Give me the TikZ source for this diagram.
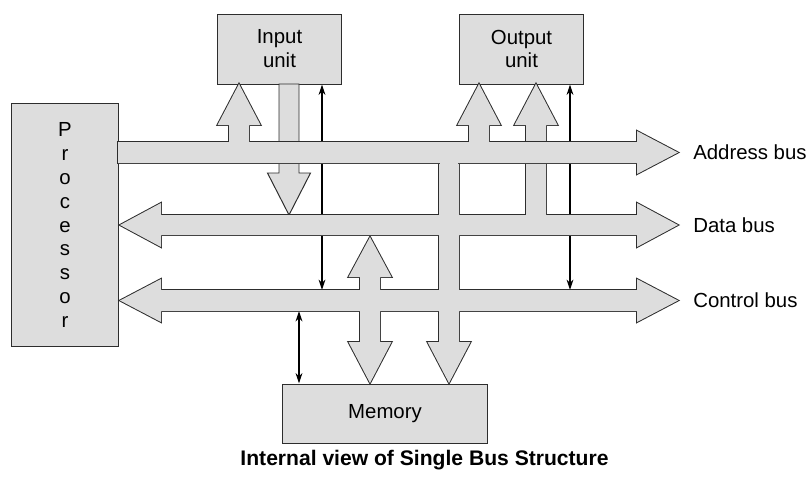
\documentclass[tikz,border=0pt]{standalone}
\usepackage{fontspec}
\setmainfont{Liberation Sans}
\usetikzlibrary{arrows.meta}

\definecolor{busgray}{RGB}{221,221,221}
\definecolor{edgegray}{RGB}{45,45,45}

% vertical bus stub with an arrow head pointing up to a unit
\newcommand{\upbus}[2]{(#1-10,#2) -- (#1-10,125) -- (#1-21.5,125) -- (#1,84) -- (#1+21.5,125) -- (#1+10,125) -- (#1+10,#2) -- cycle}

\begin{document}
\begin{tikzpicture}[x=0.025cm,y=-0.025cm,
    unit/.style={draw=edgegray, line width=0.7pt, fill=busgray, align=center, font=\fontsize{14.5}{17}\selectfont},
    busedge/.style={draw=edgegray, line width=1.4pt, line join=miter},
    sig/.style={draw=black, line width=0.8pt, {Stealth[length=2.6mm,width=1.7mm]}-{Stealth[length=2.6mm,width=1.7mm]}},
    buslabel/.style={anchor=west, inner sep=0pt, font=\fontsize{14.5}{17}\selectfont}]

\useasboundingbox (0,0) rectangle (811,476);

% units
\node[unit, minimum width=2.65cm, minimum height=6.05cm] (cpu) at (65,225) {P\\r\\o\\c\\e\\s\\s\\o\\r};
\node[unit, minimum width=3.075cm, minimum height=1.75cm] (inunit) at (279.5,49) {Input\\unit};
\node[unit, minimum width=3.075cm, minimum height=1.75cm] (outunit) at (521.5,49) {Output\\unit};
\node[unit, minimum width=5.1cm, minimum height=1.475cm] (memory) at (385,413.5) {Memory};

% control lines (behind the buses)
\coordinate (ctlin) at (322,290);
\coordinate (ctlout) at (570,290);
\coordinate (ctlmem) at (299,311);
\draw[sig] (ctlin) -- (ctlin |- inunit.south);
\draw[sig] (ctlout) -- (ctlout |- outunit.south);
\draw[sig] (ctlmem) -- (ctlmem |- memory.north);

% input unit -> data bus
\draw[edgegray, line width=0.7pt, fill=busgray] (279,84) -- (279,173) -- (267.5,173) -- (289,215) -- (310.5,173) -- (299,173) -- (299,84) -- cycle;

% data bus, control bus and their branches
\path[busedge] (120,225) -- (161,203) -- (161,215) -- (637,215) -- (637,203) -- (678,225) -- (637,247) -- (637,235) -- (161,235) -- (161,247) -- cycle;
\path[busedge] (120,300.5) -- (161,279) -- (161,290) -- (637,290) -- (637,279) -- (678,300.5) -- (637,322) -- (637,311) -- (161,311) -- (161,322) -- cycle;
\path[busedge] \upbus{536}{225};
\path[busedge] (370,237) -- (391.5,277) -- (380,277) -- (380,342) -- (391.5,342) -- (370,383) -- (348.5,342) -- (360,342) -- (360,277) -- (348.5,277) -- cycle;
\path[busedge] (439,150) -- (439,342) -- (427.5,342) -- (449,383) -- (470.5,342) -- (459,342) -- (459,150) -- cycle;
\fill[busgray] (120,225) -- (161,203) -- (161,215) -- (637,215) -- (637,203) -- (678,225) -- (637,247) -- (637,235) -- (161,235) -- (161,247) -- cycle;
\fill[busgray] (120,300.5) -- (161,279) -- (161,290) -- (637,290) -- (637,279) -- (678,300.5) -- (637,322) -- (637,311) -- (161,311) -- (161,322) -- cycle;
\fill[busgray] \upbus{536}{225};
\fill[busgray] (370,237) -- (391.5,277) -- (380,277) -- (380,342) -- (391.5,342) -- (370,383) -- (348.5,342) -- (360,342) -- (360,277) -- (348.5,277) -- cycle;
\fill[busgray] (439,150) -- (439,342) -- (427.5,342) -- (449,383) -- (470.5,342) -- (459,342) -- (459,150) -- cycle;

% address bus and its branches
\path[busedge] (118,142) -- (637,142) -- (637,131) -- (678,152.5) -- (637,174) -- (637,163) -- (118,163) -- cycle;
\path[busedge] \upbus{239}{152};
\path[busedge] \upbus{479}{152};
\fill[busgray] (118,142) -- (637,142) -- (637,131) -- (678,152.5) -- (637,174) -- (637,163) -- (118,163) -- cycle;
\fill[busgray] \upbus{239}{152};
\fill[busgray] \upbus{479}{152};
\fill[busgray] (439.7,156) rectangle (458.3,168);

% labels
\node[buslabel] (lbladdr) at (693,152.5) {Address bus};
\node[buslabel] (lbldata) at (693,225) {Data bus};
\node[buslabel] (lblctrl) at (693,300.5) {Control bus};
\node[font=\bfseries\fontsize{15}{18}\selectfont] (title) at (424.5,460) {Internal view of Single Bus Structure};
\end{tikzpicture}
\end{document}
